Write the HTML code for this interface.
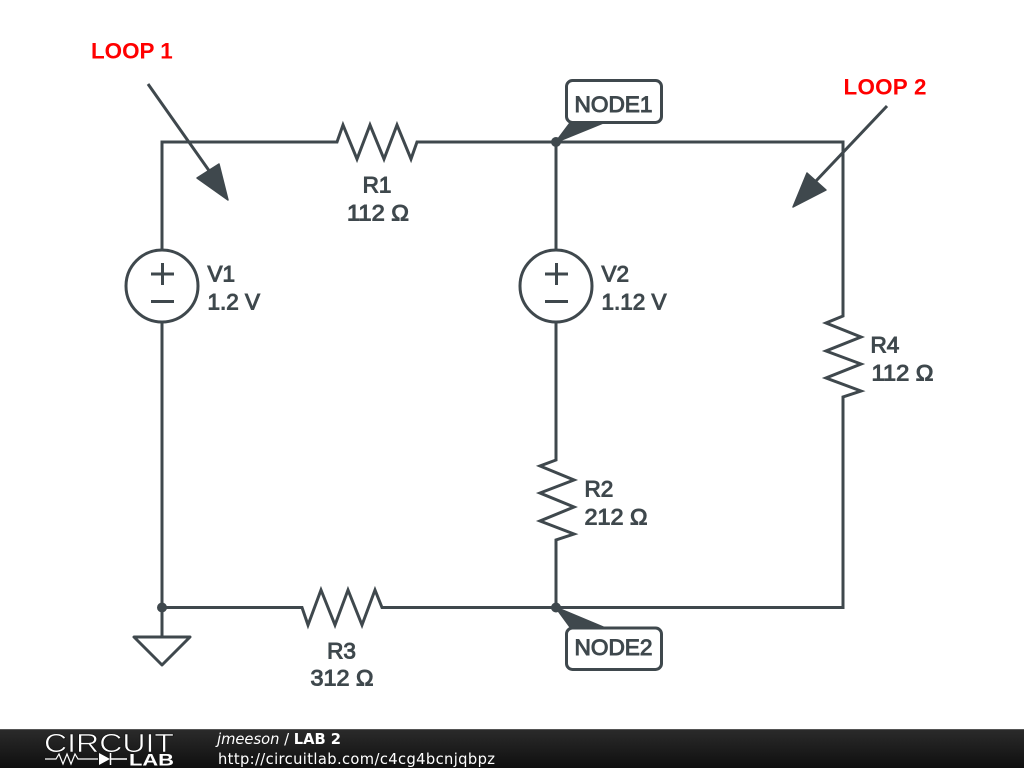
<!DOCTYPE html>
<html><head><meta charset="utf-8"><style>
html,body{margin:0;padding:0;background:#fff;width:1024px;height:768px;overflow:hidden}
svg{display:block}
text{font-family:"Liberation Sans",Arial,sans-serif}
.l{font-size:22.5px;fill:#3f484d;stroke:#3f484d;stroke-width:1}
.w{fill:none;stroke:#3f484d;stroke-width:3;stroke-linejoin:miter}
.r{font-size:22.4px;font-weight:bold;fill:#ff0000}
.f{font-family:"DejaVu Sans",sans-serif;fill:#fff;font-size:14.7px}
</style></head><body>
<svg width="1024" height="768" viewBox="0 0 1024 768" xmlns="http://www.w3.org/2000/svg">
<defs><linearGradient id="g" x1="0" y1="0" x2="0" y2="1"><stop offset="0" stop-color="#2b2b2b"/><stop offset="1" stop-color="#0f0f0f"/></linearGradient></defs>
<polyline class="w" points="162,250 162,142 337,142 343,125 357,159 370,125 384,159 397,125 411,159 417,142 843,142 843,316 826,323 861,337 826,351 861,364 826,378 861,391 843,397 843,607.5 556,607.5"/>
<polyline class="w" points="162,322 162,607.5 302,607.5 308,625 321,590 335,625 348,590 362,625 375,590 382,607.5 556,607.5"/>
<polyline class="w" points="556,142 556,250"/>
<polyline class="w" points="556,322 556,460 540,466 574,480 540,493 574,507 540,521 574,534 556,540 556,607.5"/>
<polyline class="w" points="162,607.5 162,637"/>
<polygon class="w" style="stroke-linejoin:round" points="134,637 190,637 162,665"/>
<circle cx="162" cy="607.5" r="5" fill="#3f484d"/>
<circle cx="556" cy="142" r="5" fill="#3f484d"/>
<circle cx="556" cy="607.5" r="5" fill="#3f484d"/>
<circle class="w" cx="162" cy="286" r="36"/>
<circle class="w" cx="556" cy="286" r="36"/>
<path class="w" d="M151,274H174M162.500,263V285M151,301.500H174"/>
<path class="w" d="M545,274H568M556.500,263V285M545,301.500H568"/>
<line class="w" x1="148" y1="84" x2="210" y2="172"/>
<polygon fill="#3f484d" stroke="#3f484d" stroke-width="1.500" stroke-linejoin="round" points="219,164 197,178 228,200"/>
<line class="w" x1="887" y1="106" x2="815" y2="182"/>
<polygon fill="#3f484d" stroke="#3f484d" stroke-width="1.500" stroke-linejoin="round" points="807,173 826,190 793,207"/>
<polygon fill="#3f484d" stroke="#3f484d" stroke-width="2" stroke-linejoin="round" points="556,142 571,122 605,122"/>
<rect x="566.500" y="80.500" width="95" height="42" rx="6" fill="#fff" stroke="#3f484d" stroke-width="3"/>
<polygon fill="#3f484d" stroke="#3f484d" stroke-width="2" stroke-linejoin="round" points="556,607.500 571,628 605,628"/>
<rect x="566.500" y="628" width="95" height="41.500" rx="6" fill="#fff" stroke="#3f484d" stroke-width="3"/>
<text class="l" x="574.500" y="112" textLength="78" lengthAdjust="spacingAndGlyphs">NODE1</text>
<text class="l" x="574.500" y="655" textLength="78" lengthAdjust="spacingAndGlyphs">NODE2</text>
<text class="r" x="91" y="58.500">LOOP 1</text>
<text class="r" x="843.500" y="94.500" textLength="83">LOOP 2</text>
<text class="l" x="377" y="192.500" text-anchor="middle">R1</text>
<text class="l" x="347" y="220.500" textLength="62" lengthAdjust="spacingAndGlyphs">112 Ω</text>
<text class="l" x="207.500" y="281.500">V1</text>
<text class="l" x="207.500" y="309.500">1.2 V</text>
<text class="l" x="601.500" y="281.500">V2</text>
<text class="l" x="601.500" y="309.500">1.12 V</text>
<text class="l" x="584.500" y="496.500">R2</text>
<text class="l" x="584.500" y="524.500" textLength="63" lengthAdjust="spacingAndGlyphs">212 Ω</text>
<text class="l" x="870.500" y="352.500">R4</text>
<text class="l" x="871.500" y="380.500" textLength="62" lengthAdjust="spacingAndGlyphs">112 Ω</text>
<text class="l" x="341.500" y="658.500" text-anchor="middle">R3</text>
<text class="l" x="310.500" y="685.500" textLength="63" lengthAdjust="spacingAndGlyphs">312 Ω</text>
<rect x="0" y="729" width="1024" height="39" fill="url(#g)"/>
<rect x="0" y="729" width="1024" height="1" fill="#555"/>
<text x="44" y="752" font-size="26" fill="#fff" stroke="#111" stroke-width=".6" textLength="130" lengthAdjust="spacingAndGlyphs">CIRCUIT</text>
<path d="M45,759H56L59,754L63,764L67,754L71,764L75,754L78,759H98" fill="none" stroke="#fff" stroke-width="1.200"/>
<polygon fill="#fff" points="99,753 99,765 110,759"/>
<path d="M110.500,753V765M110,759H127" stroke="#fff" stroke-width="1.500" fill="none"/>
<text x="129" y="765.500" font-size="17" font-weight="bold" fill="#fff" textLength="45" lengthAdjust="spacingAndGlyphs">LAB</text>
<text class="f" x="217" y="744"><tspan font-style="italic">jmeeson</tspan> / <tspan font-weight="bold">LAB 2</tspan></text>
<text class="f" x="218" y="764" textLength="277">http://circuitlab.com/c4cg4bcnjqbpz</text>
</svg>
</body></html>
